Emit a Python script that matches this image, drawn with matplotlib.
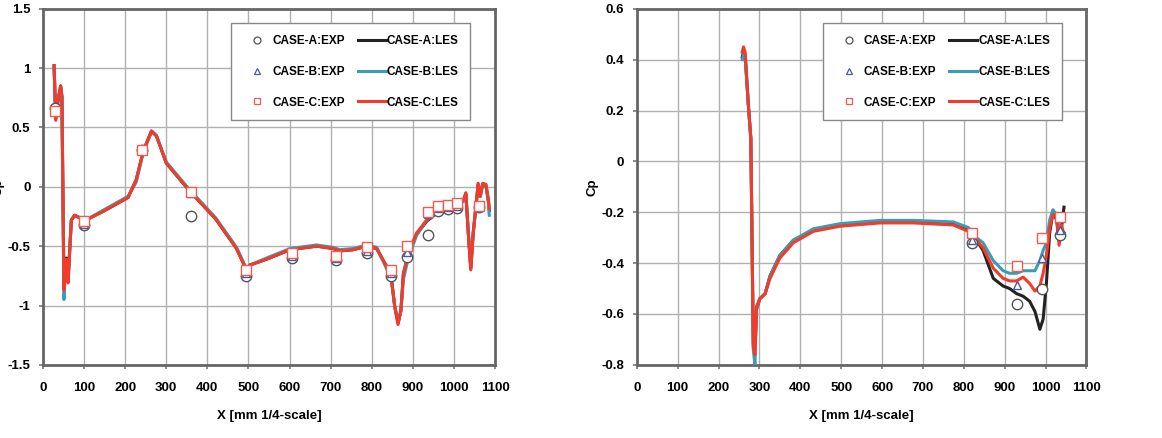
"""
Cp distributions along the body centre line: LES against experiment.
"""

import matplotlib
matplotlib.use('Agg')
import matplotlib.pyplot as plt
from matplotlib.lines import Line2D

plt.rcParams['font.family'] = ['Liberation Sans', 'DejaVu Sans']
plt.rcParams['font.weight'] = 'bold'

# ---- left panel: LES curves ----
left_x = [27, 31, 37, 43, 46, 51, 54, 57, 61, 69, 77, 89, 99, 150, 207, 227, 244,
          264, 276, 300, 341, 361, 420, 471, 495, 503, 544, 601, 666, 706, 722,
          755, 787, 812, 836, 848, 856, 864, 871, 877, 889, 909, 934, 958, 982,
          1007, 1023, 1029, 1035, 1041, 1047, 1055, 1059, 1064, 1070, 1078, 1084, 1086]
left_les_a = [1.02, 0.58, 0.74, 0.85, 0.76, -0.84, -0.70, -0.60, -0.78, -0.28, -0.24, -0.26,
              -0.29, -0.20, -0.09, 0.06, 0.30, 0.47, 0.43, 0.20, 0.03, -0.05, -0.27,
              -0.52, -0.70, -0.66, -0.61, -0.53, -0.50, -0.52, -0.54, -0.53, -0.50, -0.52,
              -0.67, -0.78, -1.01, -1.15, -1.04, -0.74, -0.57, -0.40, -0.29, -0.22, -0.17,
              -0.16, -0.12, -0.06, -0.39, -0.69, -0.39, -0.12, 0.02, -0.08, 0.02, 0.01,
              -0.12, -0.20]
left_les_b = [1.01, 0.57, 0.73, 0.84, 0.75, -0.95, -0.75, -0.62, -0.80, -0.28, -0.24, -0.26,
              -0.29, -0.19, -0.08, 0.04, 0.29, 0.46, 0.43, 0.21, 0.04, -0.04, -0.26,
              -0.51, -0.69, -0.66, -0.60, -0.52, -0.49, -0.51, -0.53, -0.52, -0.49, -0.51,
              -0.69, -0.79, -1.00, -1.14, -1.05, -0.78, -0.60, -0.41, -0.28, -0.21, -0.17,
              -0.16, -0.12, -0.06, -0.38, -0.68, -0.38, -0.12, 0.02, -0.08, 0.02, 0.01,
              -0.14, -0.24]
left_les_c = [1.02, 0.56, 0.74, 0.85, 0.76, -0.87, -0.72, -0.61, -0.81, -0.28, -0.24, -0.26,
              -0.29, -0.20, -0.09, 0.06, 0.30, 0.47, 0.43, 0.20, 0.03, -0.05, -0.27,
              -0.52, -0.70, -0.66, -0.61, -0.53, -0.50, -0.52, -0.54, -0.53, -0.50, -0.52,
              -0.67, -0.78, -1.01, -1.16, -1.04, -0.73, -0.56, -0.39, -0.28, -0.21, -0.16,
              -0.15, -0.11, -0.05, -0.39, -0.70, -0.39, -0.11, 0.03, -0.08, 0.03, 0.02,
              -0.11, -0.18]

# ---- left panel: experiment ----
left_exp_x = [30, 99, 242, 361, 495, 607, 714, 789, 846, 886, 938, 962, 986, 1008, 1062]
left_exp_a = [0.66, -0.32, 0.31, -0.25, -0.75, -0.60, -0.62, -0.56, -0.75, -0.59, -0.41,
              -0.20, -0.19, -0.18, -0.17]
left_exp_b = [0.65, -0.31, 0.31, -0.05, -0.73, -0.58, -0.60, -0.54, -0.73, -0.55, -0.23,
              -0.18, -0.17, -0.16, -0.16]
left_exp_c = [0.64, -0.29, 0.31, -0.04, -0.70, -0.56, -0.58, -0.51, -0.70, -0.50, -0.21,
              -0.16, -0.15, -0.14, -0.16]

# ---- right panel: LES curves ----
right_x = [258, 261, 265, 273, 279, 285, 289, 293, 301, 314, 326, 350, 383, 432, 497,
           595, 676, 774, 811, 831, 847, 872, 896, 912, 929, 945, 961, 974, 986, 994,
           1002, 1010, 1018, 1027, 1033, 1039, 1045]
right_les_a = [0.41, 0.43, 0.42, 0.22, 0.09, -0.72, -0.74, -0.58, -0.54, -0.52, -0.45,
               -0.37, -0.31, -0.27, -0.25, -0.236, -0.236, -0.245, -0.27, -0.31, -0.35,
               -0.46, -0.49, -0.50, -0.52, -0.53, -0.55, -0.59, -0.66, -0.62, -0.48,
               -0.28, -0.20, -0.23, -0.31, -0.26, -0.18]
right_les_b = [0.40, 0.42, 0.41, 0.22, 0.09, -0.74, -0.80, -0.58, -0.54, -0.52, -0.45,
               -0.37, -0.31, -0.265, -0.245, -0.232, -0.232, -0.238, -0.26, -0.30, -0.32,
               -0.39, -0.43, -0.44, -0.44, -0.43, -0.43, -0.43, -0.39, -0.35, -0.32,
               -0.23, -0.19, -0.21, -0.26, -0.27, -0.28]
right_les_c = [0.43, 0.45, 0.43, 0.22, 0.09, -0.73, -0.76, -0.57, -0.54, -0.52, -0.46,
               -0.38, -0.32, -0.275, -0.255, -0.242, -0.242, -0.25, -0.275, -0.31, -0.34,
               -0.42, -0.46, -0.47, -0.47, -0.455, -0.48, -0.51, -0.49, -0.44, -0.37,
               -0.26, -0.21, -0.22, -0.33, -0.25, -0.29]

# ---- right panel: experiment ----
right_exp_x = [821, 929, 990, 1036]
right_exp_a = [-0.32, -0.56, -0.50, -0.29]
right_exp_b = [-0.31, -0.485, -0.38, -0.27]
right_exp_c = [-0.28, -0.41, -0.30, -0.22]

case_labels = ['CASE-A', 'CASE-B', 'CASE-C']
les_colors = ['#222222', '#3b9cb3', '#f23b2b']
exp_colors = ['#555555', '#4a5a9a', '#f05a50']
exp_markers = ['o', '^', 's']


def draw_panel(ax, x, les, exp_x, exp, ylim, yticks, ytick_fmt):
    for ys, c in zip(les, les_colors):
        ax.plot(x, ys, color=c, linewidth=2.2, zorder=3)
    for ys, c, m in zip(exp, exp_colors, exp_markers):
        ax.plot(exp_x, ys, linestyle='none', marker=m, markersize=7.5 if m != '^' else 6,
                markerfacecolor='white', markeredgecolor=c, markeredgewidth=1.0, zorder=4)

    ax.set_xlim(0, 1100)
    ax.set_ylim(*ylim)
    ax.set_xticks(range(0, 1101, 100))
    ax.set_yticks(yticks)
    ax.set_yticklabels([ytick_fmt(v) for v in yticks])
    ax.tick_params(labelsize=9.5, length=3, width=1.2, color='#777777', pad=6)
    ax.tick_params(axis='x', pad=9)
    ax.grid(True, color='#b0b0b0', linewidth=1.0)
    ax.set_axisbelow(True)
    for s in ax.spines.values():
        s.set_color('#666666')
        s.set_linewidth(2.0)

    ax.set_xlabel('X [mm 1/4-scale]', fontsize=9.5, fontweight='bold', labelpad=12)
    ax.set_ylabel('Cp', fontsize=9.5, fontweight='bold', labelpad=2)

    handles = []
    for lab, c, m in zip(case_labels, exp_colors, exp_markers):
        handles.append(Line2D([], [], linestyle='none', marker=m, markersize=5,
                              markerfacecolor='white', markeredgecolor=c,
                              markeredgewidth=0.9, label=lab + ':EXP'))
    for lab, c in zip(case_labels, les_colors):
        handles.append(Line2D([], [], color=c, linewidth=2.2, label=lab + ':LES'))
    leg = ax.legend(handles=handles, ncol=2, loc='upper right',
                    bbox_to_anchor=(0.945, 0.96), fontsize=8.5, frameon=True,
                    fancybox=False, edgecolor='#888888', framealpha=1.0,
                    handlelength=2.4, handletextpad=0.05, labelspacing=1.6,
                    columnspacing=1.1, borderpad=1.0, borderaxespad=0)
    leg.get_frame().set_linewidth(1.0)


def fmt_left(v):
    return f'{v:g}'


fig = plt.figure(figsize=(11.62, 4.38), dpi=100)
ax1 = fig.add_axes([0.037, 0.167, 0.389, 0.813])
ax2 = fig.add_axes([0.548, 0.167, 0.387, 0.813])

draw_panel(ax1, left_x, [left_les_a, left_les_b, left_les_c],
           left_exp_x, [left_exp_a, left_exp_b, left_exp_c],
           (-1.5, 1.5), [-1.5, -1, -0.5, 0, 0.5, 1, 1.5], fmt_left)
draw_panel(ax2, right_x, [right_les_a, right_les_b, right_les_c],
           right_exp_x, [right_exp_a, right_exp_b, right_exp_c],
           (-0.8, 0.6), [-0.8, -0.6, -0.4, -0.2, 0, 0.2, 0.4, 0.6],
           lambda v: '0' if abs(v) < 1e-9 else f'{v:.1f}')

fig.savefig('out.png', dpi=100)
